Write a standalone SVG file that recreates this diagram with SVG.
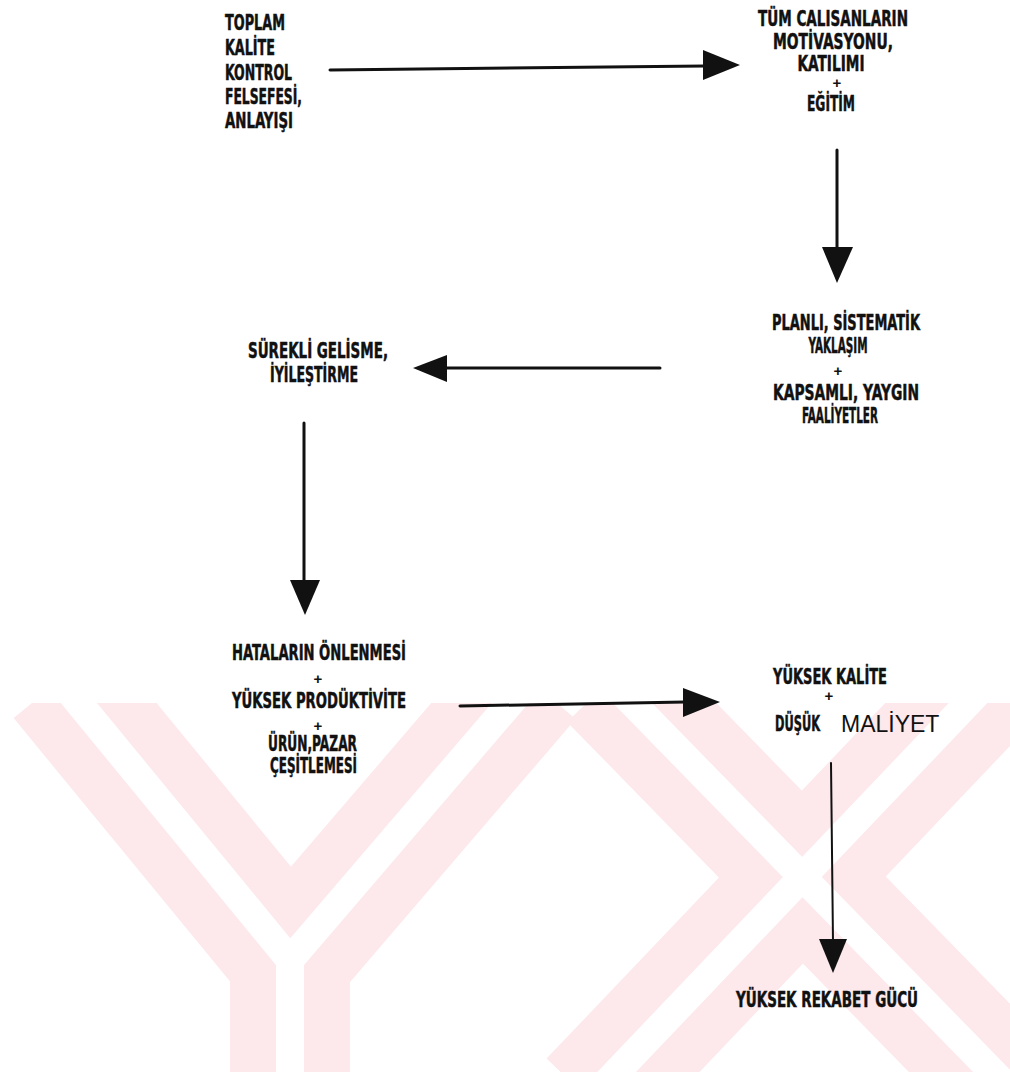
<svg xmlns="http://www.w3.org/2000/svg" width="1010" height="1072" viewBox="0 0 1010 1072">
<style>
.t{font-family:"Liberation Sans Narrow","DejaVu Sans Condensed","Liberation Sans",sans-serif;font-weight:bold;font-size:21px;fill:#111;stroke:#111;stroke-width:0.5}
.p{font-family:"Liberation Sans",sans-serif;font-weight:bold;font-size:15px;fill:#111;text-anchor:middle}
.m{text-anchor:middle}
.r{font-family:"Liberation Sans",sans-serif;font-size:23px;fill:#111}
.ln{stroke:#111;stroke-width:3;fill:none;stroke-linecap:round}
.hd{fill:#111}
.wm{stroke:#fde8ec;fill:none}
.wg{stroke:#fff;fill:none}
</style>
<rect width="1010" height="1072" fill="#fff"/>
<g id="watermark">
<clipPath id="wc"><rect x="0" y="703" width="1010" height="369"/></clipPath>
<g clip-path="url(#wc)">
<path class="wm" stroke-width="120" d="M60 680 L290 960 L290 1100 M530 680 L290 960"/>
<path class="wg" stroke-width="28" d="M60 680 L290 960 L290 1100 M530 680 L290 960"/>
<path class="wm" stroke-width="120" d="M610 680 L1020 1100 M990 680 L590 1100"/>
<path class="wg" stroke-width="28" d="M610 680 L1020 1100 M990 680 L590 1100"/>
</g>
</g>
<g id="connectors">
<line class="ln" x1="330" y1="70" x2="705" y2="66"/>
<polygon class="hd" points="703,50 740,65 703,80"/>
<line class="ln" x1="837" y1="150" x2="837" y2="250"/>
<polygon class="hd" points="822,247 853,247 837,283"/>
<line class="ln" x1="660" y1="368" x2="445" y2="368"/>
<polygon class="hd" points="447,355 447,382 413,368"/>
<line class="ln" x1="304" y1="423" x2="304" y2="582"/>
<polygon class="hd" points="290,580 320,580 305,615"/>
<line class="ln" x1="460" y1="706" x2="685" y2="702"/>
<polygon class="hd" points="683,688 720,702 683,717"/>
<line class="ln" style="stroke-width:2" x1="831" y1="763" x2="833" y2="942"/>
<polygon class="hd" points="819,939 847,939 833,973"/>
</g>
<g id="node-toplam">
<text class="t" x="225" y="30" textLength="60" lengthAdjust="spacingAndGlyphs">TOPLAM</text>
<text class="t" x="225" y="55" textLength="50" lengthAdjust="spacingAndGlyphs">KALİTE</text>
<text class="t" x="225" y="80" textLength="67" lengthAdjust="spacingAndGlyphs">KONTROL</text>
<text class="t" x="225" y="104" textLength="77" lengthAdjust="spacingAndGlyphs">FELSEFESİ,</text>
<text class="t" x="225" y="128" textLength="68" lengthAdjust="spacingAndGlyphs">ANLAYIŞI</text>
</g>
<g id="node-calisanlar">
<text class="t m" x="833" y="26" textLength="150" lengthAdjust="spacingAndGlyphs">TÜM CALISANLARIN</text>
<text class="t m" x="833" y="49" textLength="120" lengthAdjust="spacingAndGlyphs">MOTİVASYONU,</text>
<text class="t m" x="831" y="71" textLength="67" lengthAdjust="spacingAndGlyphs">KATILIMI</text>
<text class="p" x="837" y="88">+</text>
<text class="t m" x="831" y="111" textLength="48" lengthAdjust="spacingAndGlyphs">EĞİTİM</text>
</g>
<g id="node-planli">
<text class="t m" x="846" y="330" textLength="148" lengthAdjust="spacingAndGlyphs">PLANLI, SİSTEMATİK</text>
<text class="t m" x="838" y="353" textLength="59" lengthAdjust="spacingAndGlyphs">YAKLAŞIM</text>
<text class="p" x="838" y="376">+</text>
<text class="t m" x="846" y="400" textLength="146" lengthAdjust="spacingAndGlyphs">KAPSAMLI, YAYGIN</text>
<text class="t m" x="840" y="423" textLength="76" lengthAdjust="spacingAndGlyphs">FAALİYETLER</text>
</g>
<g id="node-surekli">
<text class="t" x="248" y="358" textLength="140" lengthAdjust="spacingAndGlyphs">SÜREKLİ GELİSME,</text>
<text class="t" x="270" y="382" textLength="88" lengthAdjust="spacingAndGlyphs">İYİLEŞTİRME</text>
</g>
<g id="node-hatalar">
<text class="t" x="232" y="660" textLength="174" lengthAdjust="spacingAndGlyphs">HATALARIN ÖNLENMESİ</text>
<text class="p" x="318" y="684">+</text>
<text class="t" x="232" y="708" textLength="174" lengthAdjust="spacingAndGlyphs">YÜKSEK PRODÜKTİVİTE</text>
<text class="p" x="318" y="731">+</text>
<text class="t" x="268" y="751" textLength="89" lengthAdjust="spacingAndGlyphs">ÜRÜN,PAZAR</text>
<text class="t" x="270" y="773" textLength="87" lengthAdjust="spacingAndGlyphs">ÇEŞİTLEMESİ</text>
</g>
<g id="node-kalite">
<text class="t" x="773" y="684" textLength="114" lengthAdjust="spacingAndGlyphs">YÜKSEK KALİTE</text>
<text class="p" x="829" y="701">+</text>
<text class="t" x="775" y="731" textLength="45" lengthAdjust="spacingAndGlyphs">DÜŞÜK</text>
<text class="r" x="841" y="732">MALİYET</text>
</g>
<g id="node-rekabet">
<text class="t" x="736" y="1007" textLength="182" lengthAdjust="spacingAndGlyphs">YÜKSEK REKABET GÜCÜ</text>
</g>
</svg>
